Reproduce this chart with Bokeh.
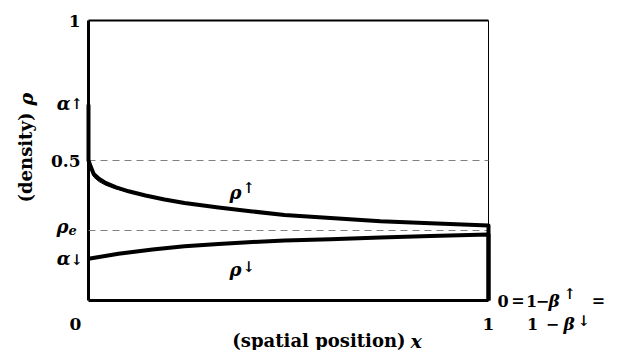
import math
from bokeh.plotting import figure
from bokeh.models import Range1d, Label
from bokeh.embed import file_html
from bokeh.resources import INLINE

# ---------------- data ----------------
x_up = [0.0, 0.0, 0.005, 0.013, 0.026, 0.0425, 0.0675, 0.10, 0.1425, 0.19, 0.24, 0.325, 0.41, 0.49, 0.605, 0.73, 0.855, 1.0, 1.0]
rho_up = [0.70, 0.50, 0.480, 0.452, 0.435, 0.420, 0.405, 0.390, 0.375, 0.361, 0.348, 0.332, 0.318, 0.305, 0.295, 0.283, 0.276, 0.268, 0.0]

x_th = [0.0, 0.005, 0.013, 0.026, 0.0425, 0.0675, 0.10, 0.1425, 0.19, 0.24, 0.325, 0.41, 0.49, 0.605, 0.73, 0.855, 1.0]
rho_th = [0.50, 0.470, 0.441, 0.425, 0.412, 0.399, 0.387, 0.373, 0.360, 0.347, 0.332, 0.318, 0.305, 0.295, 0.283, 0.276, 0.268]

x_dn = [0.0, 0.075, 0.16, 0.24, 0.325, 0.41, 0.49, 0.605, 0.73, 0.855, 1.0, 1.0]
rho_dn = [0.149, 0.167, 0.182, 0.194, 0.202, 0.209, 0.214, 0.219, 0.225, 0.230, 0.236, 0.0]

alpha_up = 0.70
alpha_dn = 0.15
rho_e = 0.25
half = 0.5
x_lo, x_hi = 0.0, 1.0
y_lo, y_hi = 0.0, 1.0
y_ticks = [1.0, 0.5]
y_tick_labels = ["1", "0.5"]
x_ticks = [0.0, 1.0]
x_tick_labels = ["0", "1"]

curve_label_x = [0.3675, 0.3675]
curve_label_y = [0.386, 0.111]

# ---------------- figure ----------------
W, H = 618, 350
L, R, T, B = 88, 488, 20, 300          # frame position of the unit box, in pixels
sx = (R - L) / (x_hi - x_lo)
sy = (B - T) / (y_hi - y_lo)

p = figure(width=W, height=H,
           x_range=Range1d(x_lo - L / sx, x_hi + (W - R) / sx),
           y_range=Range1d(y_lo - (H - B) / sy, y_hi + T / sy),
           output_backend="svg", toolbar_location=None,
           x_axis_type=None, y_axis_type=None, min_border=0)
p.outline_line_color = None
p.xgrid.visible = False
p.ygrid.visible = False
p.background_fill_color = "white"
p.border_fill_color = "white"

SERIF = "DejaVu Serif"
FS = "17px"

# box
p.segment(x0=[x_lo], y0=[y_lo], x1=[x_lo], y1=[y_hi], line_color="black", line_width=3)
p.segment(x0=[x_lo], y0=[y_lo], x1=[x_hi], y1=[y_lo], line_color="black", line_width=3)
p.segment(x0=[x_lo], y0=[y_hi], x1=[x_hi], y1=[y_hi], line_color="black", line_width=2.2)
p.segment(x0=[x_hi], y0=[y_lo], x1=[x_hi], y1=[y_hi], line_color="black", line_width=1)

# dashed reference lines
p.segment(x0=[x_lo, x_lo], y0=[half, rho_e], x1=[x_hi, x_hi], y1=[half, rho_e],
          line_color="#808080", line_dash="7 5", line_width=1.2)

# curves
p.line(x_th, rho_th, line_color="black", line_width=1)
p.line(x_up, rho_up, line_color="black", line_width=4, line_join="round")
p.line(x_dn, rho_dn, line_color="black", line_width=4, line_join="round")


def lab(text, x, y, xu="data", yu="data", xo=0, yo=0, size=FS, style="bold", align="left",
        baseline="alphabetic", angle=0.0):
    p.add_layout(Label(x=x, y=y, x_units=xu, y_units=yu, x_offset=xo, y_offset=yo, text=text,
                       text_font=SERIF, text_font_size=size, text_font_style=style,
                       text_align=align, text_baseline=baseline, angle=angle,
                       text_color="black"))

ARW = "15px"

# y tick labels
for v, t in zip(y_ticks, y_tick_labels):
    lab(t, x_lo, v, xo=-8, align="right", baseline="middle")

# parameter labels on the y axis
lab("α", x_lo, alpha_up, xo=-18, yo=1, style="bold italic", align="right", baseline="middle", size="18px")
lab("↑", x_lo, alpha_up, xo=-18, yo=1, size=ARW)
lab("ρ", x_lo, rho_e, xo=-20, yo=4, style="bold italic", align="right", size="18px")
lab("e", x_lo, rho_e, xo=-20, yo=1, style="bold italic", size="13px")
lab("α", x_lo, alpha_dn, xo=-18, yo=0, style="bold italic", align="right", baseline="middle", size="18px")
lab("↓", x_lo, alpha_dn, xo=-18, yo=-1, size=ARW)

# x tick labels
lab(x_tick_labels[0], x_ticks[0], y_lo, xo=-13, yo=-23, align="center")
lab(x_tick_labels[1], x_ticks[1], y_lo, xo=0, yo=-23, align="center")

# curve labels
lab("ρ", curve_label_x[0], curve_label_y[0], style="bold italic", align="center", baseline="middle", size="18px")
lab("↑", curve_label_x[0], curve_label_y[0], xo=7, yo=4, size=ARW)
lab("ρ", curve_label_x[1], curve_label_y[1], style="bold italic", align="center", baseline="middle", size="18px")
lab("↓", curve_label_x[1], curve_label_y[1], xo=7, yo=2, size=ARW)

# axis titles (screen units: origin at the bottom-left of the canvas)
lab("(spatial position)", 405, 10, xu="screen", yu="screen", align="right", size="18px")
lab("x", 410, 10, xu="screen", yu="screen", style="bold italic", size="19px")
lab("(density)", 25, 148, xu="screen", yu="screen", angle=math.pi / 2, size="18px")
lab("ρ", 25, 245, xu="screen", yu="screen", angle=math.pi / 2, style="bold italic", size="19px")

# right-bottom annotation: 0 = 1-beta_up = 1-beta_down
SM = "16px"
lab("0", x_hi, y_lo, xo=14.5, yo=0, align="center", size=SM)
lab("=", x_hi, y_lo, xo=29.5, yo=0, align="center", size=SM)
lab("1", x_hi, y_lo, xo=43, yo=0, align="center", size=SM)
lab("−", x_hi, y_lo, xo=54, yo=0, align="center", size=SM)
lab("β", x_hi, y_lo, xo=60, yo=0, style="bold italic", size="17px")
lab("↑", x_hi, y_lo, xo=75, yo=7, size=ARW)
lab("=", x_hi, y_lo, xo=110, yo=0, align="center", size=SM)
lab("1", x_hi, y_lo, xo=44, yo=-23, align="center", size=SM)
lab("−", x_hi, y_lo, xo=64, yo=-23, align="center", size=SM)
lab("β", x_hi, y_lo, xo=75, yo=-23, style="bold italic", size="17px")
lab("↓", x_hi, y_lo, xo=89, yo=-20, size=ARW)

open("out.html", "w").write(file_html(p, INLINE))
